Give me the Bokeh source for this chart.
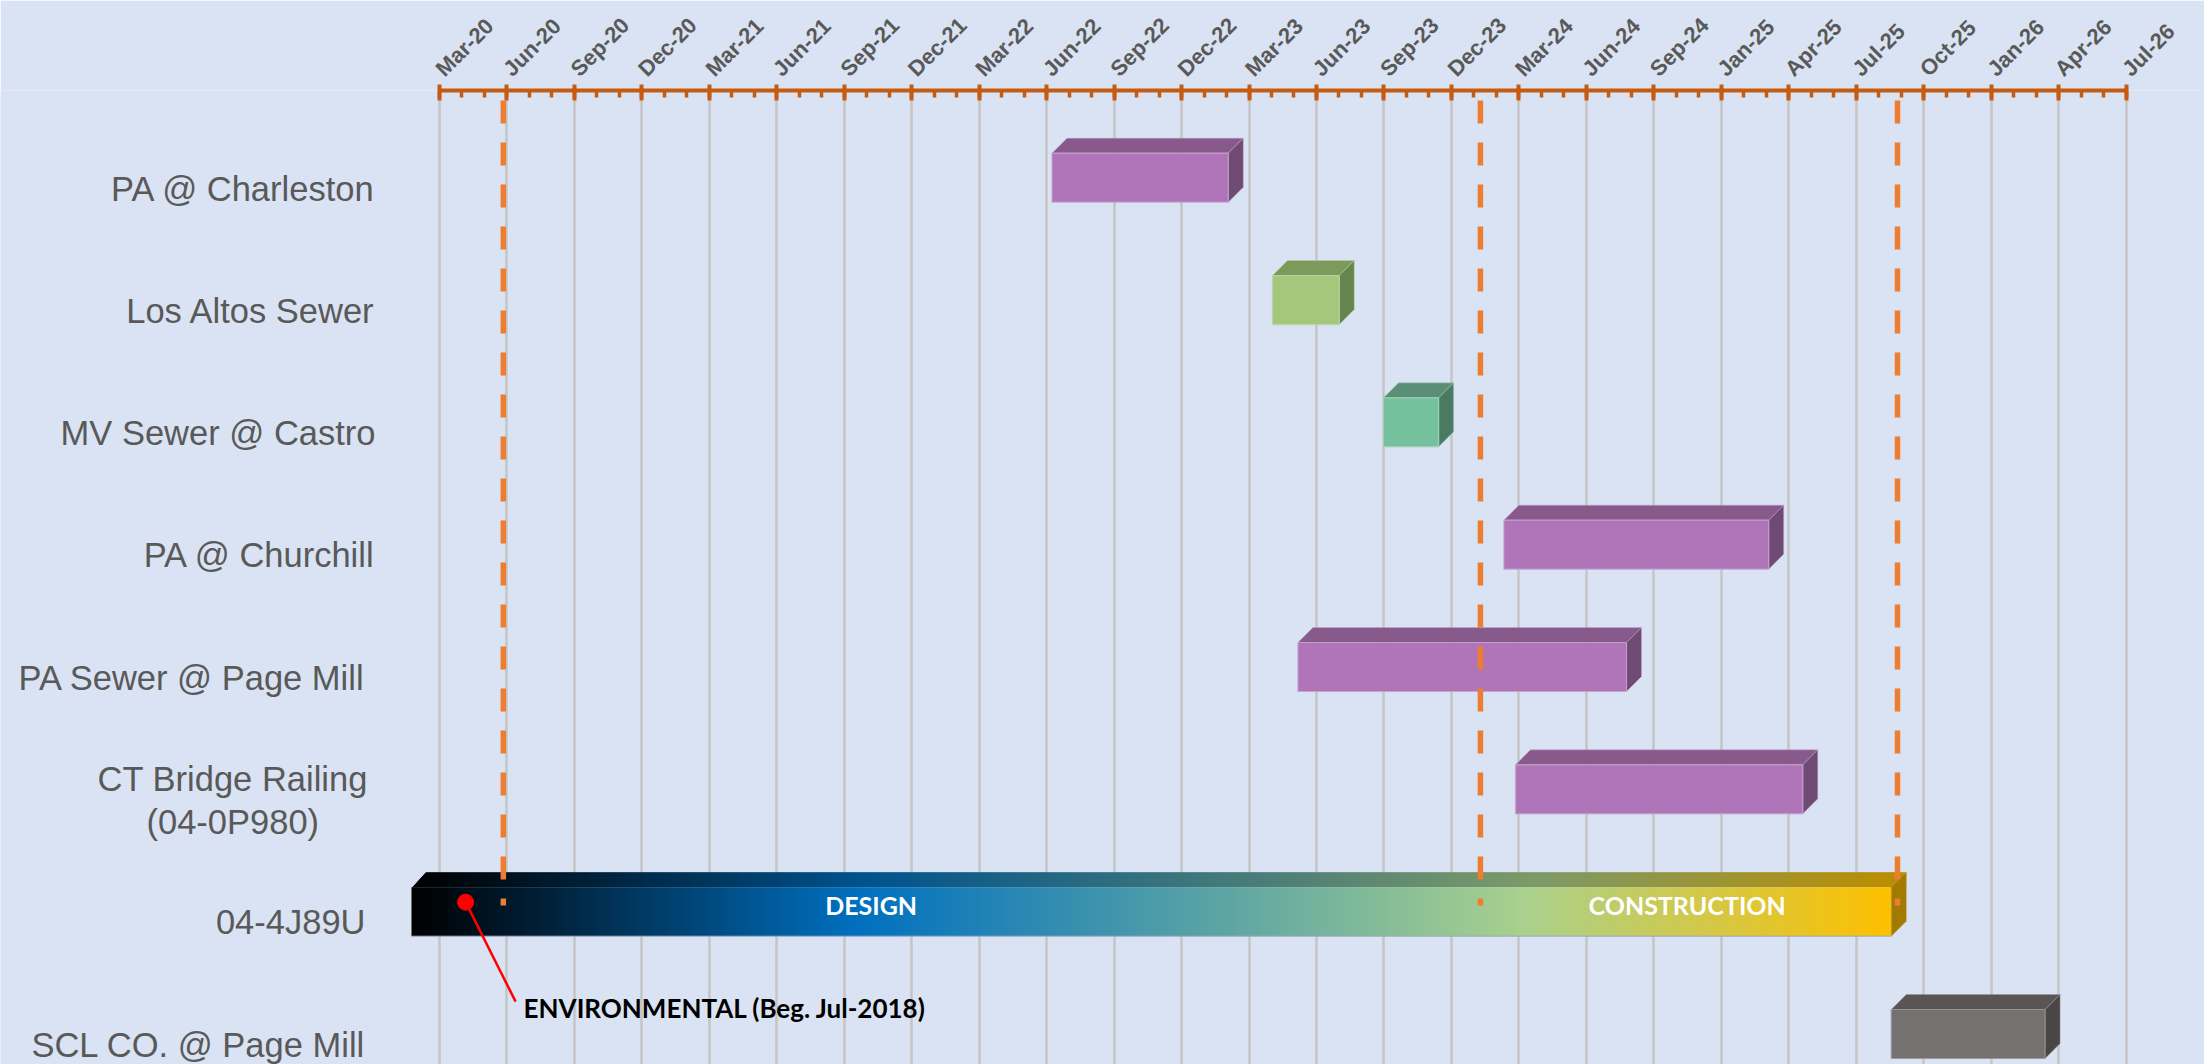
import numpy as np
import pandas as pd
from bokeh.plotting import figure
from bokeh.models import Range1d, FixedTicker
from bokeh.core.properties import value
from bokeh.embed import file_html
from bokeh.resources import INLINE

# ---------------- data ----------------
row_labels = ["PA @ Charleston", "Los Altos Sewer", "MV Sewer @ Castro", "PA @ Churchill",
              "PA Sewer @ Page Mill", "CT Bridge Railing\n(04-0P980)", "04-4J89U",
              "SCL CO. @ Page Mill"]

task_rows = [0, 1, 2, 3, 4, 5, 7]
task_start = ["2022-08-01", "2023-06-01", "2023-11-01", "2024-04-15", "2023-07-06", "2024-05-01", "2025-10-01"]
task_end = ["2023-04-01", "2023-09-01", "2024-01-16", "2025-04-15", "2024-10-01", "2025-06-01", "2026-05-01"]
task_kind = ["purple", "green", "teal", "purple", "purple", "purple", "gray"]

main_row = 6
main_start = "2018-07-01"
main_end = "2025-10-01"
phase_names = ["DESIGN", "CONSTRUCTION"]
phase_label_dates = ["2021-10-17", "2024-11-15"]

milestone_dates = ["2020-05-28", "2024-02-04", "2025-09-01"]

env_text = "ENVIRONMENTAL (Beg. Jul-2018)"
env_marker_date = "2020-04-06"

axis_start = "2020-03-01"
major_unit_days = 93
tick_labels = ["Mar-20", "Jun-20", "Sep-20", "Dec-20", "Mar-21", "Jun-21", "Sep-21", "Dec-21",
               "Mar-22", "Jun-22", "Sep-22", "Dec-22", "Mar-23", "Jun-23", "Sep-23", "Dec-23",
               "Mar-24", "Jun-24", "Sep-24", "Jan-25", "Apr-25", "Jul-25", "Oct-25", "Jan-26",
               "Apr-26", "Jul-26"]

# ---------------- layout / style ----------------
W, H = 2204, 1064
FRAME_TOP = 90
BG = "#DAE3F3"
PPD = 67.46 / 93.0          # px per day
X_ORIGIN = 439              # px of axis start
ROW_PX = 122.33
ROW0_SCREEN = 188           # px of row 0 centre
ROW0 = ROW0_SCREEN - FRAME_TOP
DEPTH = 15                  # 3-D depth in px
SHIFT = 28                  # front face shift (3-D projection) in px
FRONT_TOP_PX = -35.3
FRONT_H_PX = 49

dx = DEPTH / PPD
dy = DEPTH / ROW_PX
shift = SHIFT / PPD
ftop = FRONT_TOP_PX / ROW_PX
fh = FRONT_H_PX / ROW_PX

palette = {
    "purple": ("#B074B8", "#875A8B", "#6E4A74", "#C4A4CC"),
    "green": ("#A3C87B", "#7B9A5B", "#66844D", "#BCD3A6"),
    "teal": ("#75C09D", "#5A8E75", "#4B7A63", "#A3D3BD"),
    "gray": ("#767171", "#5A5555", "#4B4646", "#9A9696"),
}

t0 = pd.Timestamp(axis_start)


def day(d):
    return (pd.Timestamp(d) - t0).days


def px2x(px_screen):
    return (px_screen - X_ORIGIN) / PPD


def py2row(py_screen):
    return (py_screen - ROW0_SCREEN) / ROW_PX


n_ticks = len(tick_labels)
major_ticks = [i * major_unit_days for i in range(n_ticks)]
minor_ticks = [i * major_unit_days // 3 for i in range(3 * (n_ticks - 1) + 1)]

p = figure(width=W, height=H, output_backend="svg", toolbar_location=None,
           x_axis_location="above", y_axis_location=None,
           x_range=Range1d(-X_ORIGIN / PPD, (W - X_ORIGIN) / PPD),
           y_range=Range1d((H - FRAME_TOP - ROW0) / ROW_PX, -ROW0 / ROW_PX),
           min_border_left=0, min_border_right=0, min_border_bottom=0, min_border_top=FRAME_TOP,
           background_fill_color=BG, border_fill_color=BG, outline_line_color=None)

ax = p.xaxis[0]
ax.ticker = FixedTicker(ticks=major_ticks, minor_ticks=minor_ticks)
ax.bounds = (0, major_ticks[-1])
ax.major_label_overrides = {t: lab for t, lab in zip(major_ticks, tick_labels)}
ax.major_label_orientation = np.pi / 4
ax.axis_line_color = "#C55A11"
ax.axis_line_width = 4
ax.major_tick_line_color = "#C55A11"
ax.major_tick_line_width = 4
ax.major_tick_in = 10
ax.major_tick_out = 6
ax.minor_tick_line_color = "#C55A11"
ax.minor_tick_line_width = 3.5
ax.minor_tick_in = 7
ax.minor_tick_out = 0
ax.major_label_text_font = "Liberation Sans"
ax.major_label_text_font_style = "bold"
ax.major_label_text_font_size = "22px"
ax.major_label_text_color = "#595959"
ax.major_label_standoff = 12

p.xgrid.ticker = FixedTicker(ticks=major_ticks)
p.xgrid.grid_line_color = "#C5C5C5"
p.xgrid.grid_line_width = 2.5
p.ygrid.visible = False

# ---------------- task bars (3-D look) ----------------
for r, s, e, k in zip(task_rows, task_start, task_end, task_kind):
    front, top, side, edge = palette[k]
    xs = day(s) - shift
    xe = day(e) - shift
    yt = r + ftop
    yb = yt + fh
    p.patch([xs, xs + dx, xe + dx, xe], [yt, yt - dy, yt - dy, yt], fill_color=top,
            line_color=edge, line_alpha=0.5, line_width=1)
    p.patch([xe, xe + dx, xe + dx, xe], [yt, yt - dy, yb - dy, yb], fill_color=side,
            line_color=edge, line_alpha=0.5, line_width=1)
    p.quad(left=xs, right=xe, top=yt, bottom=yb, fill_color=front,
           line_color=edge, line_alpha=0.8, line_width=1.2)

# ---------------- main project gradient bar ----------------
stops_f = [0.0, 0.30, 0.75, 1.0]
stops_c = [(0, 0, 0), (0, 112, 192), (169, 209, 142), (255, 192, 0)]
N = 1480
f = np.linspace(0, 1, N)
rgb = np.stack([np.interp(f, stops_f, [c[i] for c in stops_c]) for i in range(3)], axis=1)


def grad_img(factor):
    img = np.zeros((2, N, 4), dtype=np.uint8)
    img[:, :, :3] = np.clip(rgb * factor, 0, 255).astype(np.uint8)[None, :, :]
    img[:, :, 3] = 255
    return img.view(dtype=np.uint32).reshape((2, N))


mxs = max(day(main_start), 0) - shift
mxe = day(main_end) - shift
myt = main_row + ftop
myb = myt + fh
p.image_rgba(image=[grad_img(0.74)], x=mxs, y=myt - dy, dw=mxe + dx - mxs, dh=dy)
p.patch([mxs, mxs, mxs + dx], [myt + 0.002, myt - dy - 0.01, myt - dy - 0.01], fill_color=BG, line_color=BG)
p.image_rgba(image=[grad_img(1.0)], x=mxs, y=myt, dw=mxe - mxs, dh=fh)
p.patch([mxe, mxe + dx, mxe + dx, mxe], [myt, myt - dy, myb - dy, myb], fill_color="#A27A00",
        line_color="#C9A640", line_alpha=0.5, line_width=1)
p.segment(x0=mxs, y0=myb, x1=mxe, y1=myb, line_color="#9AA8C0", line_width=1)

phase_y = main_row + (-17.5 / ROW_PX)
p.text(x=[day(d) for d in phase_label_dates], y=[phase_y] * len(phase_names), text=phase_names,
       text_align="center", text_baseline="middle", text_color="white",
       text_font=value("Lato"), text_font_style="bold", text_font_size="25px")

# ---------------- milestone dashed lines ----------------
ml_top = py2row(100)
ml_bot = py2row(905)
md = [day(d) for d in milestone_dates]
p.segment(x0=md, y0=[ml_top] * len(md), x1=md, y1=[ml_bot] * len(md),
          line_color="#ED7D31", line_width=5.5, line_dash="23 19")

# ---------------- environmental annotation ----------------
ex = day(env_marker_date)
ey = main_row + (901.7 - 922.0) / ROW_PX
p.segment(x0=[ex], y0=[ey], x1=[ex + 50 / PPD], y1=[ey + 99.5 / ROW_PX], line_color="#FF0000", line_width=2.5)
p.scatter(x=[ex], y=[ey], size=16, fill_color="#FF0000", line_color="#FF0000")
p.text(x=[ex], y=[ey], text=[env_text], x_offset=58, y_offset=106, text_align="left",
       text_baseline="middle", text_color="black", text_font=value("Lato"),
       text_font_style="bold", text_font_size="26px")

# ---------------- row labels ----------------
label_anchor_px = [375, 375, 375, 375, 365, 232.3, 365, 365]
label_align = ["right", "right", "right", "right", "right", "center", "right", "right"]
for i, (lab, ap, al) in enumerate(zip(row_labels, label_anchor_px, label_align)):
    p.text(x=[px2x(ap)], y=[i], text=[lab], text_align=al, text_baseline="middle",
           text_color="#595959", text_font=value("Liberation Sans"), text_font_size="34.5px",
           text_line_height=1.13)

open("out.html", "w").write(file_html(p, INLINE))
